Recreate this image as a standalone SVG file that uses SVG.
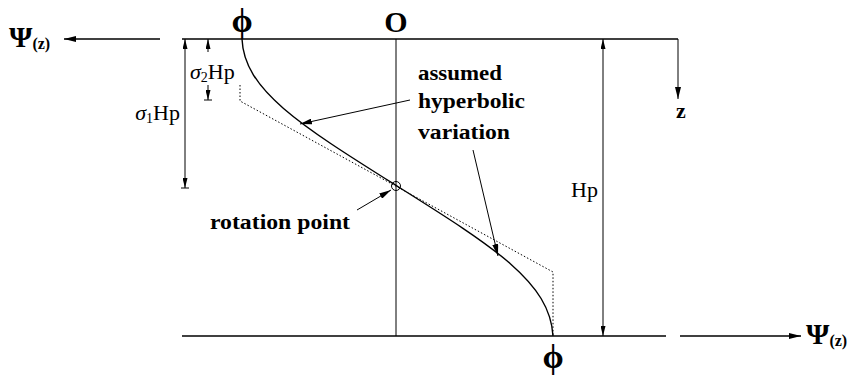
<svg xmlns="http://www.w3.org/2000/svg" width="855" height="380" viewBox="0 0 855 380">
<style>
.ln{stroke:#000;stroke-width:1.4;fill:none}
.thin{stroke:#000;stroke-width:1;fill:none}
.dot{stroke:#000;stroke-width:1;fill:none;stroke-dasharray:1.5 2}
.sym{font-family:"Liberation Serif","DejaVu Serif",serif;fill:#000}
.lbl{font-family:"Liberation Serif","DejaVu Serif",serif;font-weight:bold;font-size:20px;fill:#000}
.reg{font-family:"Liberation Serif","DejaVu Serif",serif;font-size:22px;fill:#000}
</style>
<defs>
<marker id="ah" viewBox="0 0 12 6" refX="12" refY="3" markerWidth="12" markerHeight="6" markerUnits="userSpaceOnUse" orient="auto">
<path d="M0,0 L12,3 L0,6 Z" fill="#000"/>
</marker>
<marker id="as" viewBox="0 0 10 5" refX="10" refY="2.5" markerWidth="10" markerHeight="5" markerUnits="userSpaceOnUse" orient="auto">
<path d="M0,0 L10,2.5 L0,5 Z" fill="#000"/>
</marker>
</defs>

<g id="axes">
<line class="ln" x1="182" y1="39" x2="678" y2="39"/>
<line class="ln" x1="160" y1="39" x2="64" y2="39" marker-end="url(#ah)"/>
<line class="ln" x1="182" y1="336" x2="666" y2="336"/>
<line class="ln" x1="680" y1="336" x2="801" y2="336" marker-end="url(#ah)"/>
<line class="thin" x1="396" y1="39" x2="396" y2="336"/>
<line class="thin" x1="678" y1="39" x2="678" y2="99" marker-end="url(#ah)"/>
</g>

<g id="labels">
<text class="sym" x="9" y="47" font-size="30" font-weight="bold">Ψ<tspan font-size="16" dy="2">(z)</tspan></text>
<text class="sym" x="806" y="344" font-size="30" font-weight="bold">Ψ<tspan font-size="16" dy="2">(z)</tspan></text>
<text class="sym" x="242" y="32" font-size="34" font-weight="bold" text-anchor="middle">ϕ</text>
<text class="sym" x="553" y="368" font-size="34" font-weight="bold" text-anchor="middle">ϕ</text>
<text class="sym" x="396" y="32" font-size="30" font-weight="bold" text-anchor="middle">O</text>
<text class="sym" x="681" y="118" font-size="22" font-weight="bold" text-anchor="middle">z</text>
</g>

<g id="dim-Hp">
<line class="thin" x1="603" y1="188" x2="603" y2="39" marker-end="url(#as)"/>
<line class="thin" x1="603" y1="188" x2="603" y2="336" marker-end="url(#as)"/>
<text class="reg" x="598" y="197" text-anchor="end" font-size="23">Hp</text>
</g>

<g id="dim-s2">
<line class="thin" x1="208" y1="52" x2="208" y2="39" marker-end="url(#as)"/>
<line class="thin" x1="208" y1="85" x2="208" y2="100" marker-end="url(#as)"/>
<line class="thin" x1="204" y1="100" x2="212" y2="100"/>
<text class="reg" x="190" y="79"><tspan font-style="italic">σ</tspan><tspan font-size="14" dy="3">2</tspan><tspan dy="-3">Hp</tspan></text>
</g>

<g id="dim-s1">
<line class="thin" x1="185" y1="115" x2="185" y2="39" marker-end="url(#as)"/>
<line class="thin" x1="185" y1="115" x2="185" y2="188" marker-end="url(#as)"/>
<line class="thin" x1="181" y1="188" x2="189" y2="188"/>
<text class="reg" x="180" y="120" text-anchor="end"><tspan font-style="italic">σ</tspan><tspan font-size="14" dy="3">1</tspan><tspan dy="-3">Hp</tspan></text>
</g>

<g id="curves">
<path class="ln" d="M242,39 C244,90 300,125 397,186 C494,247 550,282 553,336"/>
<path class="dot" d="M240,85 L240,101 L553,272 L553,336"/>
<circle class="thin" cx="396" cy="186" r="4.5"/>
</g>

<g id="annotations">
<text class="lbl" x="418" y="80" textLength="84" lengthAdjust="spacingAndGlyphs">assumed</text>
<text class="lbl" x="418" y="108" textLength="107" lengthAdjust="spacingAndGlyphs">hyperbolic</text>
<text class="lbl" x="418" y="139" textLength="92" lengthAdjust="spacingAndGlyphs">variation</text>
<line class="thin" x1="410" y1="100" x2="300" y2="124" marker-end="url(#ah)"/>
<line class="thin" x1="473" y1="150" x2="498" y2="256" marker-end="url(#ah)"/>
<text class="lbl" x="210" y="229" textLength="140" lengthAdjust="spacingAndGlyphs">rotation point</text>
<line class="thin" x1="357" y1="210" x2="391" y2="190" marker-end="url(#ah)"/>
</g>
</svg>
